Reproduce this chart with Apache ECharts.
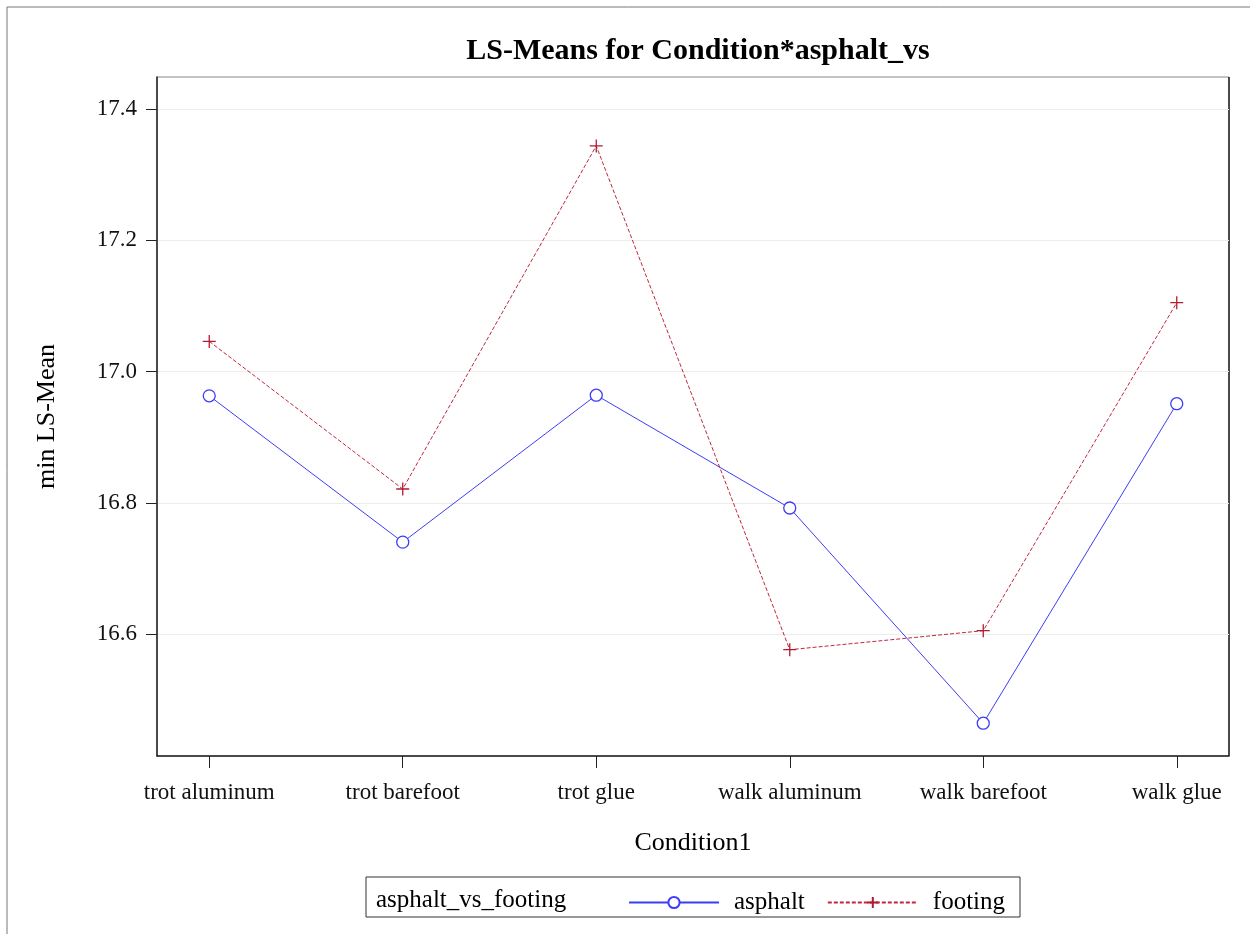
<!DOCTYPE html>
<html>
<head>
<meta charset="utf-8">
<script src="https://cdn.jsdelivr.net/npm/echarts@6/dist/echarts.min.js"></script>
<style>html,body{margin:0;padding:0;background:#fff;}#c{width:1250px;height:935px;}</style>
</head>
<body>
<div id="c"></div>
<script>
const categories = ['trot aluminum','trot barefoot','trot glue','walk aluminum','walk barefoot','walk glue'];
const asphalt = [16.963, 16.740, 16.964, 16.792, 16.464, 16.951];
const footing = [17.046, 16.821, 17.344, 16.576, 16.605, 17.105];
const yTicks = [16.6, 16.8, 17.0, 17.2, 17.4];
const titleText = 'LS-Means for Condition*asphalt_vs';
const legendTitle = 'asphalt_vs_footing';

const serif = '"Liberation Serif", "Times New Roman", serif';
const xIdx = categories.map((_, i) => i);
const chart = echarts.init(document.getElementById('c'), null, {renderer: 'canvas'});
const plusPath = 'path://M0,8L16,8M8,0L8,16';

chart.setOption({
  animation: false,
  backgroundColor: '#fff',
  title: {
    text: titleText, left: 693, top: 31, textAlign: 'center',
    textStyle: {fontFamily: serif, fontWeight: 'bold', fontSize: 30, color: '#000'}
  },
  grid: {left: 157, top: 77, right: 21, bottom: 179, show: true, borderColor: '#888', borderWidth: 1},
  xAxis: {
    type: 'value', min: -0.27, max: 5.27,
    name: 'Condition1', nameLocation: 'middle', nameGap: 74,
    nameTextStyle: {fontFamily: serif, fontSize: 26, color: '#000'},
    axisLine: {show: true, onZero: false, lineStyle: {color: '#222', width: 1.5}},
    axisTick: {show: true, length: 12, customValues: xIdx, lineStyle: {color: '#222'}},
    axisLabel: {customValues: xIdx, margin: 25, fontFamily: serif, fontSize: 23, color: '#111',
      formatter: v => categories[Math.round(v)] || ''},
    splitLine: {show: false}
  },
  yAxis: {
    type: 'value', min: 16.414, max: 17.449,
    name: 'min LS-Mean', nameLocation: 'middle', nameGap: 97,
    nameTextStyle: {fontFamily: serif, fontSize: 26, color: '#000'},
    axisLine: {show: true, onZero: false, lineStyle: {color: '#222', width: 1.5}},
    axisTick: {show: true, length: 11, customValues: yTicks, lineStyle: {color: '#222'}},
    axisLabel: {customValues: yTicks, margin: 20, fontFamily: serif, fontSize: 23, color: '#111',
      formatter: v => Number(v).toFixed(1)},
    splitLine: {show: true, lineStyle: {color: '#ececec', width: 1}}
  },
  legend: {
    left: 623, top: 885, itemWidth: 90, itemHeight: 14, itemGap: 22,
    textStyle: {fontFamily: serif, fontSize: 25, color: '#000', padding: [0, 0, 0, 10]},
    data: ['asphalt', 'footing']
  },
  graphic: [
    {type: 'line', shape: {x1: 7, y1: 7, x2: 1250, y2: 7}, style: {stroke: '#777', lineWidth: 1}},
    {type: 'line', shape: {x1: 7, y1: 7, x2: 7, y2: 934}, style: {stroke: '#777', lineWidth: 1}},
    {type: 'rect', shape: {x: 366, y: 877, width: 654, height: 40}, style: {fill: 'none', stroke: '#333', lineWidth: 1}},
    {type: 'text', left: 376, top: 888, style: {text: legendTitle, fontFamily: serif, fontSize: 25, fill: '#000'}},
    {type: 'line', shape: {x1: 1229, y1: 77, x2: 1229, y2: 756}, style: {stroke: '#222', lineWidth: 1.5}}
  ],
  series: [
    {
      name: 'asphalt', type: 'line',
      data: asphalt.map((v, i) => [i, v]),
      symbol: 'circle', symbolSize: 12, showAllSymbol: true,
      lineStyle: {color: '#3d3df5', width: 1},
      itemStyle: {color: '#fff', borderColor: '#3d3df5', borderWidth: 1.3}
    },
    {
      name: 'footing', type: 'line',
      data: footing.map((v, i) => [i, v]),
      symbol: plusPath, symbolSize: 13, showAllSymbol: true,
      lineStyle: {color: '#c0283e', width: 1, type: [4, 2]},
      itemStyle: {color: 'none', borderColor: '#b01c30', borderWidth: 1.3}
    }
  ]
});
</script>
</body>
</html>
